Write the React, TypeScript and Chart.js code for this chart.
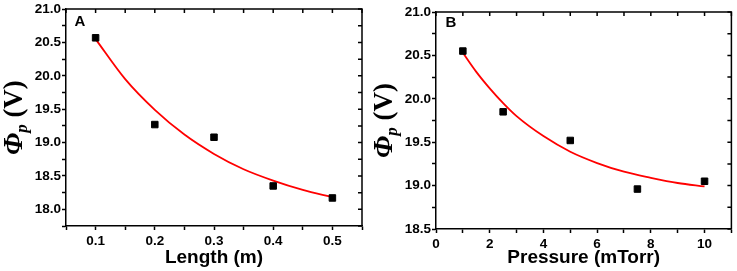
import React, { useEffect, useRef } from 'react';
import { Chart, registerables } from 'chart.js';

Chart.register(...registerables);

// ---------- Panel A: potential vs length ----------
const lengthValues = [0.1, 0.2, 0.3, 0.4, 0.5];
const lengthPhi = [20.57, 19.27, 19.08, 18.35, 18.17];
const lengthFitX = [0.1, 0.15, 0.2, 0.25, 0.3, 0.35, 0.4, 0.45, 0.5];
const lengthFitPhi = [20.55, 19.95, 19.49, 19.12, 18.83, 18.6, 18.43, 18.29, 18.18];
const lengthXTicks = [0.05, 0.1, 0.15, 0.2, 0.25, 0.3, 0.35, 0.4, 0.45, 0.5, 0.55];
const lengthXTickLabels = ['', '0.1', '', '0.2', '', '0.3', '', '0.4', '', '0.5', ''];
const lengthYTicks = [17.75, 18.0, 18.25, 18.5, 18.75, 19.0, 19.25, 19.5, 19.75, 20.0, 20.25, 20.5, 20.75, 21.0];
const lengthYTickLabels = ['', '18.0', '', '18.5', '', '19.0', '', '19.5', '', '20.0', '', '20.5', '', '21.0'];

// ---------- Panel B: potential vs pressure ----------
const pressureValues = [1, 2.5, 5, 7.5, 10];
const pressurePhi = [20.55, 19.85, 19.52, 18.96, 19.05];
const pressureFitX = [1, 1.5, 2, 2.5, 3, 4, 5, 6, 7, 8, 9, 10];
const pressureFitPhi = [20.53, 20.31, 20.12, 19.95, 19.8, 19.57, 19.39, 19.26, 19.16, 19.09, 19.03, 18.99];
const pressureXTicks = [0, 1, 2, 3, 4, 5, 6, 7, 8, 9, 10, 11];
const pressureXTickLabels = ['0', '', '2', '', '4', '', '6', '', '8', '', '10', ''];
const pressureYTicks = [18.5, 18.75, 19.0, 19.25, 19.5, 19.75, 20.0, 20.25, 20.5, 20.75, 21.0];
const pressureYTickLabels = ['18.5', '', '19.0', '', '19.5', '', '20.0', '', '20.5', '', '21.0'];

const SANS = 'Arial, "Liberation Sans", sans-serif';
const SERIF = '"Times New Roman", "Liberation Serif", serif';

type PanelCfg = {
  letter: string;
  letterX: number;
  letterY: number;
  xs: number[];
  ys: number[];
  fitX: number[];
  fitY: number[];
  xMin: number;
  xMax: number;
  yMin: number;
  yMax: number;
  xTicks: number[];
  xLabels: string[];
  yTicks: number[];
  yLabels: string[];
  xTitle: string;
  padding: { left: number; right: number; top: number; bottom: number };
  yAxisWidth: number;
  xAxisHeight: number;
  yTitleX: number;
};

const panelA: PanelCfg = {
  letter: 'A', letterX: 80, letterY: 22,
  xs: lengthValues, ys: lengthPhi, fitX: lengthFitX, fitY: lengthFitPhi,
  xMin: 0.05, xMax: 0.55, yMin: 17.75, yMax: 21.0,
  xTicks: lengthXTicks, xLabels: lengthXTickLabels,
  yTicks: lengthYTicks, yLabels: lengthYTickLabels,
  xTitle: 'Length (m)',
  padding: { left: 0, right: 6, top: 7, bottom: 0 },
  yAxisWidth: 66, xAxisHeight: 45, yTitleX: 15,
};

const panelB: PanelCfg = {
  letter: 'B', letterX: 83, letterY: 23,
  xs: pressureValues, ys: pressurePhi, fitX: pressureFitX, fitY: pressureFitPhi,
  xMin: 0, xMax: 11, yMin: 18.5, yMax: 21.0,
  xTicks: pressureXTicks, xLabels: pressureXTickLabels,
  yTicks: pressureYTicks, yLabels: pressureYTickLabels,
  xTitle: 'Pressure (mTorr)',
  padding: { left: 0, right: 4, top: 12, bottom: 0 },
  yAxisWidth: 68, xAxisHeight: 42, yTitleX: 17,
};

function makeFramePlugin(cfg: PanelCfg) {
  return {
    id: 'frameAndLabels' + cfg.letter,
    afterDraw(chart: any) {
      const { ctx, chartArea } = chart;
      const xs = chart.scales.x;
      const ys = chart.scales.y;
      ctx.save();
      ctx.strokeStyle = '#000';
      ctx.lineWidth = 1.5;
      ctx.beginPath();
      ctx.moveTo(chartArea.left, chartArea.top);
      ctx.lineTo(chartArea.right, chartArea.top);
      ctx.lineTo(chartArea.right, chartArea.bottom);
      ctx.stroke();
      ctx.beginPath();
      cfg.xTicks.forEach((v) => {
        const px = xs.getPixelForValue(v);
        ctx.moveTo(px, chartArea.top);
        ctx.lineTo(px, chartArea.top + 4);
      });
      cfg.yTicks.forEach((v) => {
        const py = ys.getPixelForValue(v);
        ctx.moveTo(chartArea.right, py);
        ctx.lineTo(chartArea.right - 4, py);
      });
      ctx.stroke();

      ctx.fillStyle = '#000';
      ctx.font = 'bold 15px ' + SANS;
      ctx.textAlign = 'center';
      ctx.textBaseline = 'middle';
      ctx.fillText(cfg.letter, cfg.letterX, cfg.letterY);

      const cy = (chartArea.top + chartArea.bottom) / 2;
      ctx.translate(cfg.yTitleX + 7, cy);
      ctx.rotate(-Math.PI / 2);
      ctx.textAlign = 'left';
      ctx.textBaseline = 'alphabetic';
      const fPhi = 'italic bold 28px ' + SERIF;
      const fSub = 'italic bold 17px ' + SERIF;
      const fMain = 'bold 27px ' + SERIF;
      ctx.font = fPhi;
      const wPhi = ctx.measureText('Φ').width;
      ctx.font = fSub;
      const wSub = ctx.measureText('p').width;
      ctx.font = fMain;
      const wRest = ctx.measureText(' (V)').width;
      const total = wPhi + wSub + wRest;
      let x0 = -total / 2;
      ctx.font = fPhi;
      ctx.fillText('Φ', x0, 0);
      x0 += wPhi;
      ctx.font = fSub;
      ctx.fillText('p', x0, 5);
      x0 += wSub;
      ctx.font = fMain;
      ctx.fillText(' (V)', x0, 0);
      ctx.restore();
    },
  };
}

function Panel({ cfg, width }: { cfg: PanelCfg; width: number }) {
  const ref = useRef<HTMLCanvasElement | null>(null);
  useEffect(() => {
    if (!ref.current) return;
    const tickFont = { family: SANS, size: 13.5, weight: 'bold' as const };
    const chart = new Chart(ref.current, {
      type: 'scatter',
      data: {
        datasets: [
          {
            label: 'data',
            data: cfg.xs.map((x, i) => ({ x, y: cfg.ys[i] })),
            backgroundColor: '#000',
            borderColor: '#000',
            pointStyle: 'rect',
            pointRadius: 4.6,
            pointHoverRadius: 4.6,
            showLine: false,
            order: 0,
          },
          {
            label: 'fit',
            data: cfg.fitX.map((x, i) => ({ x, y: cfg.fitY[i] })),
            borderColor: '#ff0000',
            backgroundColor: '#ff0000',
            borderWidth: 1.8,
            pointRadius: 0,
            showLine: true,
            cubicInterpolationMode: 'monotone',
            order: 1,
          } as any,
        ],
      },
      options: {
        animation: false,
        responsive: false,
        maintainAspectRatio: false,
        layout: { padding: cfg.padding },
        plugins: { legend: { display: false }, tooltip: { enabled: false } },
        scales: {
          x: {
            type: 'linear',
            min: cfg.xMin,
            max: cfg.xMax,
            afterBuildTicks: (s: any) => {
              s.ticks = cfg.xTicks.map((v) => ({ value: v }));
            },
            afterFit: (s: any) => {
              s.height = cfg.xAxisHeight;
            },
            ticks: {
              autoSkip: false,
              maxRotation: 0,
              color: '#000',
              font: tickFont,
              padding: 3,
              callback: (_v: any, i: number) => cfg.xLabels[i],
            },
            grid: {
              drawOnChartArea: false,
              drawTicks: true,
              tickLength: 4,
              tickColor: '#000',
              tickWidth: 1.5,
            },
            border: { display: true, color: '#000', width: 1.5 },
            title: {
              display: true,
              text: cfg.xTitle,
              color: '#000',
              font: { family: SANS, size: 19, weight: 'bold' },
              padding: { top: 0, bottom: 2 },
            },
          },
          y: {
            type: 'linear',
            min: cfg.yMin,
            max: cfg.yMax,
            afterBuildTicks: (s: any) => {
              s.ticks = cfg.yTicks.map((v) => ({ value: v }));
            },
            afterFit: (s: any) => {
              s.width = cfg.yAxisWidth;
            },
            ticks: {
              autoSkip: false,
              color: '#000',
              font: tickFont,
              padding: 1,
              callback: (_v: any, i: number) => cfg.yLabels[i],
            },
            grid: {
              drawOnChartArea: false,
              drawTicks: true,
              tickLength: 4,
              tickColor: '#000',
              tickWidth: 1.5,
            },
            border: { display: true, color: '#000', width: 1.5 },
          },
        },
      } as any,
      plugins: [makeFramePlugin(cfg)],
    });
    return () => chart.destroy();
  }, [cfg]);
  return <canvas ref={ref} width={width} height={271} style={{ display: 'block', width, height: 271 }} />;
}

export default function App() {
  return (
    <div style={{ position: 'absolute', left: 0, top: 0, width: 737, height: 271, display: 'flex', background: '#fff' }}>
      <Panel cfg={panelA} width={368} />
      <Panel cfg={panelB} width={369} />
    </div>
  );
}
